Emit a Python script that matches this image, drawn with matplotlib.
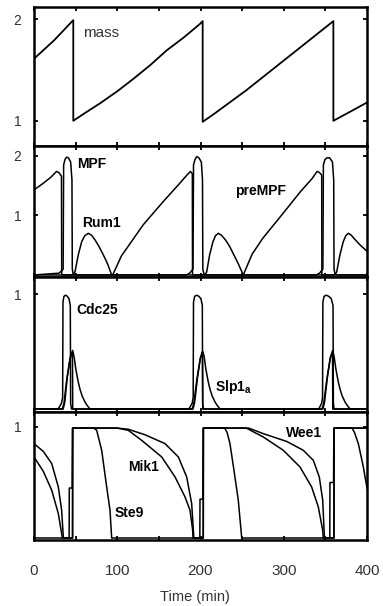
import matplotlib
matplotlib.use("Agg")
import matplotlib.pyplot as plt

plt.rcParams['font.family'] = ['Liberation Sans', 'DejaVu Sans']
plt.rcParams['mathtext.fontset'] = 'custom'
plt.rcParams['mathtext.rm'] = 'Liberation Sans'
plt.rcParams['mathtext.bf'] = 'Liberation Sans:bold'

# values, time in min
mass_t = [0, 24, 47.2, 47.2, 60, 79, 100, 119, 140, 159, 180, 199, 202.6, 202.6,
          215, 235, 255, 275, 295, 315, 335, 359.6, 359.6, 380, 400]
mass = [1.61, 1.79, 1.99, 1.0, 1.07, 1.17, 1.29, 1.41, 1.55, 1.69, 1.82, 1.95, 1.98, 0.99,
        1.06, 1.18, 1.30, 1.43, 1.56, 1.69, 1.82, 1.98, 1.0, 1.09, 1.18]

mpf_t = [0, 30, 34, 35, 35.6, 37.2, 39, 41.2, 44, 45.6, 46, 47, 50,
         183, 187, 191, 191.6, 193.4, 195.5, 198, 201, 202.4, 202.8, 204, 207,
         339, 343, 347, 347.6, 349.5, 352, 355, 358.5, 360, 360.4, 361.5, 364, 400]
mpf = [0, 0.03, 0.08, 0.1, 1.85, 1.94, 1.98, 1.97, 1.90, 1.6, 0.1, 0.02, 0,
       0, 0.03, 0.1, 1.85, 1.94, 1.99, 1.97, 1.90, 1.6, 0.1, 0.02, 0,
       0, 0.03, 0.1, 1.85, 1.94, 1.97, 1.97, 1.9, 1.6, 0.1, 0.02, 0, 0]

prempf_t = [0, 10, 20, 27, 30, 33, 33.3, 94.5, 105, 118, 131, 155, 175, 185, 188, 190.2, 190.4,
            251.4, 262, 275, 300, 320, 334, 340, 343, 345.6, 345.8, 400]
prempf = [1.43, 1.53, 1.64, 1.74, 1.72, 1.66, 0, 0, 0.32, 0.58, 0.84, 1.23, 1.54, 1.70, 1.74, 1.70, 0,
          0, 0.35, 0.62, 1.05, 1.40, 1.62, 1.74, 1.72, 1.68, 0, 0]

rum1_t = [0, 46.5, 49.2, 53.2, 57.3, 61, 65.2, 69, 73.3, 78, 83.2, 88, 93.3,
          205, 207.4, 211, 215, 218, 221.4, 225, 230, 235, 240, 245, 251.4,
          361, 363.6, 367.5, 371.5, 374.5, 377.5, 381, 386, 392, 400]
rum1 = [0, 0, 0.05, 0.34, 0.56, 0.66, 0.70, 0.67, 0.59, 0.48, 0.34, 0.20, 0,
        0, 0.05, 0.34, 0.56, 0.66, 0.70, 0.67, 0.59, 0.48, 0.34, 0.20, 0,
        0, 0.05, 0.34, 0.56, 0.66, 0.70, 0.67, 0.59, 0.50, 0.40]

cdc25_t = [0, 29, 33, 34.4, 34.8, 36, 38, 40, 42, 43.6, 44, 45,
           186, 190, 191.2, 191.6, 193, 195.5, 198, 200.5, 202.2, 202.6, 203.5,
           342, 345.6, 346.6, 347, 348.5, 351, 354, 357, 359.2, 359.6, 360.5, 400]
cdc25 = [0, 0, 0.05, 0.1, 0.93, 0.98, 0.99, 0.98, 0.96, 0.9, 0.05, 0,
         0, 0.05, 0.1, 0.93, 0.98, 0.99, 0.98, 0.96, 0.9, 0.05, 0,
         0, 0.05, 0.1, 0.93, 0.98, 0.99, 0.98, 0.96, 0.9, 0.05, 0, 0]

slp1_t = [0, 34, 36, 39.2, 43.2, 46.4, 48, 50.4, 53, 55.3, 58, 61.3, 64, 67.3,
          190, 192, 195.5, 199.5, 202.6, 204.3, 206.6, 209.2, 211.5, 214.2, 217.5, 220.2, 223.5,
          346, 348, 351.6, 355.6, 358.8, 360.4, 362.8, 365.4, 367.7, 370.4, 373.7, 376.4, 379.7, 400]
slp1 = [0, 0, 0.05, 0.25, 0.43, 0.51, 0.46, 0.34, 0.24, 0.17, 0.11, 0.06, 0.03, 0,
        0, 0.05, 0.25, 0.43, 0.50, 0.46, 0.34, 0.24, 0.17, 0.11, 0.06, 0.03, 0,
        0, 0.05, 0.25, 0.43, 0.51, 0.46, 0.34, 0.24, 0.17, 0.11, 0.06, 0.03, 0, 0]

# unlabelled trace that rises with Slp1 and drops at its peak
iep_t = [0, 35, 37, 40, 43.5, 46.2, 46.5, 191, 193, 196.5, 200, 202.4, 202.7,
         347, 349, 352.5, 356, 358.6, 358.9, 400]
iep = [0, 0, 0.06, 0.28, 0.45, 0.5, 0, 0, 0.06, 0.28, 0.45, 0.5, 0,
       0, 0.06, 0.28, 0.45, 0.5, 0, 0]

wee1_t = [0, 11.2, 21.3, 29.2, 33.2, 35.2, 35.5, 46.2, 46.4, 100, 113, 133.3, 157.4, 173.4, 183.4,
          189.4, 191.4, 192, 203.2, 203.4, 258, 275.4, 303.5, 323.5, 335.5, 342.7, 346.8, 348.8,
          349, 360.2, 360.4, 400]
wee1 = [0.85, 0.78, 0.67, 0.46, 0.25, 0.01, 0, 0, 0.99, 0.99, 0.98, 0.93, 0.85, 0.73, 0.55,
        0.31, 0.07, 0, 0, 0.99, 0.99, 0.94, 0.87, 0.79, 0.70, 0.55, 0.34, 0.01,
        0, 0, 0.99, 0.99]

mik1_t = [0, 11.2, 21.3, 29.2, 33.2, 34, 42.2, 42.4, 45.8, 46.2, 100, 113.3, 129.3, 153.4, 169.4,
          181.4, 187.4, 190.6, 191, 199.2, 199.4, 202.8, 203.2, 255, 275.4, 299.5, 319.5, 333.5,
          341.5, 346.8, 347.5, 355.3, 355.5, 359.8, 360.2, 400]
mik1 = [0.73, 0.60, 0.43, 0.22, 0.04, 0, 0, 0.45, 0.45, 0.99, 0.99, 0.97, 0.88, 0.73, 0.55,
        0.37, 0.25, 0.07, 0, 0, 0.35, 0.35, 0.99, 0.99, 0.91, 0.79, 0.64, 0.46,
        0.28, 0.07, 0, 0, 0.5, 0.5, 0.99, 0.99]

ste9_t = [0, 46.4, 46.6, 72, 75.3, 81.3, 87.3, 91.3, 93.3, 203.4, 203.6, 229, 232, 235.4, 240.2,
          245.4, 249.5, 360.4, 360.6, 382, 385, 389.6, 395.6, 400]
ste9 = [0, 0, 0.99, 0.99, 0.97, 0.79, 0.46, 0.25, 0, 0, 0.99, 0.99, 0.95, 0.85, 0.61,
        0.34, 0, 0, 0.99, 0.99, 0.95, 0.85, 0.64, 0.45]

x_labels = ['0', '100', '200', '300', '400']

W, H = 383, 606
fig = plt.figure(figsize=(W / 100, H / 100), dpi=100)

# panel frames in pixels (top, bottom) and y ranges
frames = [(7, 146), (146, 277), (277, 412), (412, 540)]
ylims = [(0.752, 2.119), (-0.034, 2.168), (-0.026, 1.148), (-0.018, 1.135)]
yticks = [[1, 2], [1, 2], [1], [1]]

axes = []
for (top, bot), yl, yt in zip(frames, ylims, yticks):
    ax = fig.add_axes([34 / W, 1 - bot / H, (367 - 34) / W, (bot - top) / H])
    ax.set_xlim(0, 400)
    ax.set_ylim(*yl)
    ax.set_xticks([0, 100, 200, 300, 400])
    ax.set_xticks([50, 150, 250, 350], minor=True)
    ax.set_yticks(yt)
    ax.set_yticklabels([str(v) for v in yt])
    ax.tick_params(which='both', direction='in', top=True, right=True, length=3, width=1.3,
                   labelbottom=False, labelsize=10, labelcolor='#333333', pad=9)
    for s in ax.spines.values():
        s.set_linewidth(1.8)
    axes.append(ax)

lw = 1.1
axes[0].plot(mass_t, mass, color='black', lw=1.3)
axes[0].text(59, 1.86, 'mass', fontsize=11, color='#333333', va='center')

axes[1].plot(prempf_t, prempf, color='black', lw=lw)
axes[1].plot(mpf_t, mpf, color='black', lw=lw)
axes[1].plot(rum1_t, rum1, color='black', lw=lw)
axes[1].text(51.6, 1.87, 'MPF', fontsize=10, fontweight='bold', va='center')
axes[1].text(57.7, 0.87, 'Rum1', fontsize=10, fontweight='bold', va='center')
axes[1].text(241.4, 1.41, 'preMPF', fontsize=10, fontweight='bold', va='center')

axes[2].plot(cdc25_t, cdc25, color='black', lw=lw)
axes[2].plot(slp1_t, slp1, color='black', lw=lw)
axes[2].plot(iep_t, iep, color='black', lw=lw)
axes[2].text(51.3, 0.86, 'Cdc25', fontsize=10, fontweight='bold', va='center')
axes[2].text(217.4, 0.19, r'Slp1$_\mathbf{a}$', fontsize=10, fontweight='bold', va='center')

axes[3].plot(wee1_t, wee1, color='black', lw=lw)
axes[3].plot(mik1_t, mik1, color='black', lw=lw)
axes[3].plot(ste9_t, ste9, color='black', lw=lw)
axes[3].text(113, 0.64, 'Mik1', fontsize=10, fontweight='bold', va='center')
axes[3].text(97.3, 0.225, 'Ste9', fontsize=10, fontweight='bold', va='center')
axes[3].text(302.7, 0.95, 'Wee1', fontsize=10, fontweight='bold', va='center')

axes[3].set_xticklabels(x_labels)
axes[3].tick_params(axis='x', labelbottom=True, labelsize=11, pad=17)

fig.text(195 / W, 1 - 597 / H, 'Time (min)', fontsize=10.5, color='#333333', ha='center', va='center')

fig.savefig('out.png', dpi=100)
plt.close(fig)
